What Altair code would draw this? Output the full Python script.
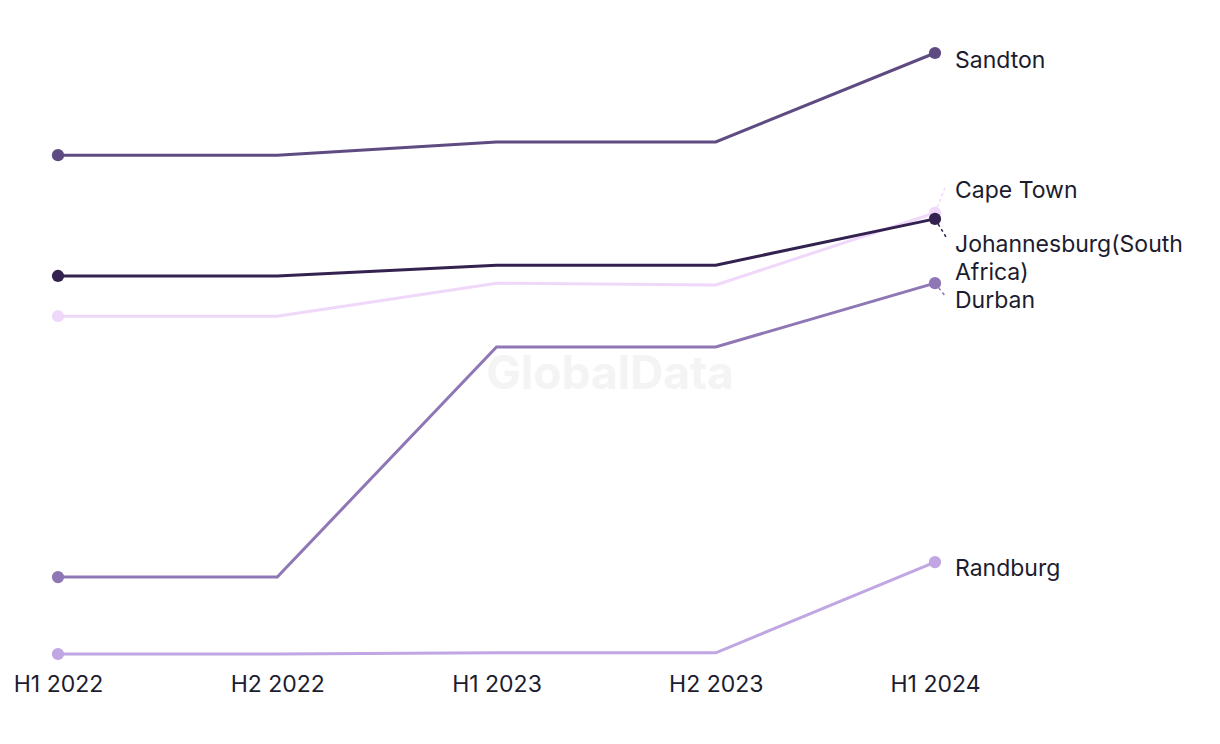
import json
import altair as alt
import pandas as pd

periods = ["H1 2022", "H2 2022", "H1 2023", "H2 2023", "H1 2024"]
cities = ["Randburg", "Durban", "Cape Town", "Johannesburg(South Africa)", "Sandton"]
randburg = [0.0, 0.0, 0.2, 0.2, 15.3]
durban = [12.8, 12.8, 51.1, 51.1, 61.7]
cape_town = [56.2, 56.2, 61.7, 61.4, 73.4]
johannesburg = [62.9, 62.9, 64.7, 64.7, 72.4]
sandton = [83.0, 83.0, 85.2, 85.2, 100.0]
colors = ["#c0a6e2", "#8f77b5", "#f0d8fb", "#33224f", "#5e4b82"]

# label annotations (value units for y, index units for leader end)
label_text = ["Randburg", "Durban", "Cape Town", "Johannesburg(South\nAfrica)", "Sandton"]
label_y = [14.2, 58.7, 77.1, 68.0, 98.7]
leader_y = [15.3, 59.4, 78.0, 69.4, 100.0]
has_leader = [False, True, True, True, False]

values = [randburg, durban, cape_town, johannesburg, sandton]
rows = []
for c, vals in zip(cities, values):
    for i, (p, v) in enumerate(zip(periods, vals)):
        rows.append({"city": c, "idx": i, "period": p, "value": v})
df = pd.DataFrame(rows)

last = len(periods) - 1
lab = pd.DataFrame({
    "city": cities,
    "text": label_text,
    "ly": label_y,
    "vy": [v[-1] for v in values],
    "x": [last] * len(cities),
    "x2": [last + 0.05] * len(cities),
    "y2": leader_y,
    "lead": has_leader,
})

FONT = "Inter"
TXT = "#1c1c30"
color = alt.Color("city:N", scale=alt.Scale(domain=cities, range=colors), legend=None)
label_expr = "%s[datum.value]" % json.dumps(periods)
xenc = alt.X(
    "idx:Q",
    scale=alt.Scale(domain=[0, last], nice=False, zero=False),
    axis=alt.Axis(
        values=list(range(len(periods))), labelExpr=label_expr, title=None,
        grid=False, domain=False, ticks=False, labelPadding=19, labelFlush=False,
        labelFontSize=23, labelColor=TXT, labelFont=FONT,
        labelFontWeight="normal", labelOverlap=False,
    ),
)
yscale = alt.Scale(domain=[0, 100], nice=False, zero=False)
yenc = alt.Y("value:Q", scale=yscale, axis=None)

base = alt.Chart(df)
lines = base.mark_line(strokeWidth=3).encode(x=xenc, y=yenc, color=color, detail="city:N")
points = base.mark_circle(size=150, opacity=1).encode(
    x=alt.X("idx:Q"), y=alt.Y("value:Q"), color=color
).transform_filter(f"datum.idx == 0 || datum.idx == {last}")

labbase = alt.Chart(lab)
leaders = labbase.mark_rule(strokeWidth=1.5, strokeDash=[3, 3]).encode(
    x=alt.X("x:Q"), x2="x2:Q", y=alt.Y("vy:Q"), y2="y2:Q", color=color
).transform_filter("datum.lead")
texts = labbase.mark_text(
    align="left", baseline="middle", dx=20, fontSize=23, font=FONT,
    color=TXT, lineBreak="\n", lineHeight=28,
).encode(x=alt.X("x:Q"), y=alt.Y("ly:Q"), text="text:N")

watermark = alt.Chart(pd.DataFrame({"t": ["GlobalData"]})).mark_text(
    fontSize=46, fontWeight="bold", font=FONT, color="#f4f4f4",
    align="center", baseline="middle",
).encode(x=alt.value(552), y=alt.value(322), text="t:N")

chart = alt.layer(watermark, lines, leaders, points, texts).properties(
    width=877, height=601,
    autosize=alt.AutoSizeParams(type="none"),
    padding={"left": 50, "top": 45, "right": 270, "bottom": 80},
).configure_view(stroke=None)

chart.save("out.html", embed_options={"renderer": "svg", "actions": False})
